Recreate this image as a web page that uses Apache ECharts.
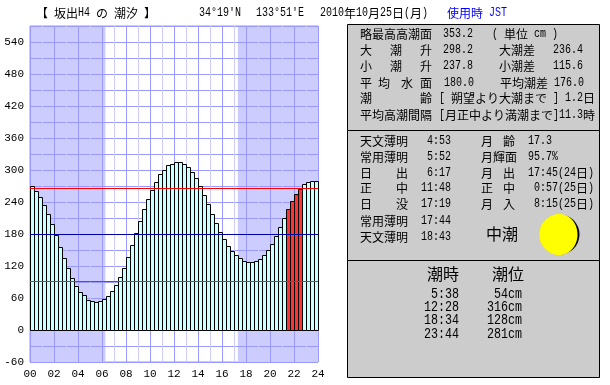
<!DOCTYPE html>
<html>
<head>
<meta charset="utf-8">
<style>html,body{margin:0;padding:0;background:#fff}#chart{width:610px;height:385px}</style>
<script src="https://cdn.jsdelivr.net/npm/echarts@6/dist/echarts.min.js"></script>
</head>
<body>
<div id="chart"></div>
<script>
// tide height every 20 minutes
const tide = [
  269, 260, 249, 234, 217, 198, 178, 155, 135, 116, 97, 82,
  71, 64, 56, 53, 52, 54, 58, 63, 73, 84, 99, 116,
  136, 159, 181, 204, 226, 245, 262, 277, 291, 299, 308, 311,
  314, 314, 311, 305, 296, 284, 269, 252, 236, 217, 200, 183,
  170, 157, 147, 140, 134, 129, 126, 126, 129, 133, 140, 149,
  161, 176, 192, 209, 226, 241, 254, 264, 273, 277, 279, 279
];
const highlighted = [64, 65, 66, 67];
const levels = [266, 180, 92];
const levelColors = ['#ff0000', '#0000aa', '#dd2233'];
const sunrise = 6 + 17 / 60;
const sunset = 17 + 19 / 60;

const headerTexts = [
  [36, 13, '【 坂出H4 の 潮汐 】'],
  [199, 13, "34°19'N"],
  [256, 13, "133°51'E"],
  [320, 13, '2010年10月25日(月)']
];
const panelTexts = [
  [360, 34, '略最高高潮面'], [443, 34, '353.2'], [492, 34, '( 単位 cm )'],
  [360, 50, '大'], [390, 50, '潮'], [420, 50, '升'], [443, 50, '298.2'], [499, 50, '大潮差'], [553, 50, '236.4'],
  [360, 66, '小'], [390, 66, '潮'], [420, 66, '升'], [443, 66, '237.8'], [499, 66, '小潮差'], [553, 66, '115.6'],
  [360, 83, '平'], [378, 83, '均'], [401, 83, '水'], [420, 83, '面'], [444, 83, '180.0'], [500, 83, '平均潮差'], [554, 83, '176.0'],
  [360, 98, '潮'], [420, 98, '齢'], [439, 98, '[ 朔望より大潮まで ] 1.2日'],
  [360, 115, '平均高潮間隔'], [439, 115, '[月正中より満潮まで]11.3時'],

  [360, 141, '天文薄明'], [427, 141, '4:53'], [481, 141, '月'], [503, 141, '齢'], [528, 141, '17.3'],
  [360, 157, '常用薄明'], [427, 157, '5:52'], [481, 157, '月輝面'], [528, 157, '95.7%'],
  [360, 173, '日'], [396, 173, '出'], [427, 173, '6:17'], [481, 173, '月'], [503, 173, '出'], [528, 173, '17:45(24日)'],
  [360, 188, '正'], [396, 188, '中'], [421, 188, '11:48'], [481, 188, '正'], [503, 188, '中'], [534, 188, '0:57(25日)'],
  [360, 204, '日'], [396, 204, '没'], [421, 204, '17:19'], [481, 204, '月'], [503, 204, '入'], [534, 204, '8:15(25日)'],
  [360, 221, '常用薄明'], [421, 221, '17:44'],
  [360, 237, '天文薄明'], [421, 237, '18:43']
];
const tideTimes = ['5:38', '12:28', '18:34', '23:44'];
const tideHeights = ['54cm', '316cm', '128cm', '281cm'];
const tideRowY = [294, 307, 320, 334];

// splits CJK and latin runs so latin stays half width like the original gothic font
const textRuns = (x, y, str, size, fill) => {
  const cell = size / 2;
  const out = [];
  (str.match(/[\x20-\x7e°]+|[^\x20-\x7e°]+/g) || []).forEach(run => {
    const latin = /^[\x20-\x7e°]/.test(run);
    out.push({
      type: 'text',
      x: x,
      y: y,
      scaleX: latin ? cell / (size * 0.6) : 1,
      z: 20,
      style: {
        text: run,
        fill: fill || '#000',
        verticalAlign: 'middle',
        font: size + 'px ' + (latin ? '"Liberation Mono"' : '"Noto Sans CJK JP"')
      }
    });
    x += run.length * (latin ? cell : size);
  });
  return out;
};

const panel = (y, h) => ({
  type: 'rect',
  z: 10,
  shape: { x: 347.5, y: y + 0.5, width: 252, height: h },
  style: { fill: '#cccccc', stroke: '#000', lineWidth: 1 }
});

const elements = [panel(24, 106), panel(130, 130), panel(260, 117)];
headerTexts.forEach(t => elements.push(...textRuns(t[0], t[1], t[2], 12)));
elements.push(...textRuns(447, 13, '使用時 JST', 12, '#0000ff'));
panelTexts.forEach(t => elements.push(...textRuns(t[0], t[1], t[2], 12)));
elements.push(...textRuns(486, 234, '中潮', 16));
elements.push(...textRuns(427, 274, '潮時', 16));
elements.push(...textRuns(492, 274, '潮位', 16));
tideTimes.forEach((t, i) => {
  elements.push(...textRuns(459 - t.length * 7, tideRowY[i], t, 14));
  elements.push(...textRuns(522 - tideHeights[i].length * 7, tideRowY[i], tideHeights[i], 14));
});
// moon: black disc, lit part is a half circle plus a half ellipse
elements.push({
  type: 'circle',
  z: 15,
  shape: { cx: 559.5, cy: 234.5, r: 20 },
  style: { fill: '#000' }
});
elements.push({
  type: 'sector',
  z: 16,
  shape: { cx: 559.5, cy: 234.5, r: 20.5, r0: 0, startAngle: Math.PI / 2, endAngle: Math.PI * 1.5 },
  style: { fill: '#ffff00' }
});
elements.push({
  type: 'ellipse',
  z: 16,
  shape: { cx: 559.5, cy: 234.5, rx: 18, ry: 20.5 },
  style: { fill: '#ffff00' }
});

// bars start on the tick, with 1px crisp outlines
const renderBar = (params, api) => {
  const top = api.coord([api.value(0), api.value(1)]);
  const base = api.coord([api.value(0), 0]);
  const width = api.size([1 / 3, 0])[0];
  const x = Math.floor(top[0] + 0.01) + 0.5;
  const y = Math.floor(top[1]) + 0.5;
  const yBase = Math.floor(base[1]) + 0.5;
  return {
    type: 'rect',
    shape: { x: x, y: y, width: Math.round(width), height: yBase - y },
    style: {
      fill: highlighted.includes(params.dataIndex) ? '#ff3333' : '#ccffff',
      stroke: '#000',
      lineWidth: 1
    }
  };
};

const chart = echarts.init(document.getElementById('chart'), null, { renderer: 'canvas' });
chart.setOption({
  animation: false,
  grid: { left: 30, top: 26, width: 288, height: 336, show: true, borderColor: '#9999ff', borderWidth: 1, backgroundColor: '#fff' },
  xAxis: {
    type: 'value',
    min: 0,
    max: 24,
    interval: 1,
    z: 3,
    axisLine: { show: false },
    axisTick: { show: false },
    splitLine: { show: true, lineStyle: { color: ['#9999ff', '#ccccff'], width: 1 } },
    axisLabel: {
      margin: 7,
      color: '#000',
      fontFamily: '"Liberation Mono"',
      fontSize: 11,
      formatter: v => (v % 2 === 0 ? String(v).padStart(2, '0') : '')
    }
  },
  yAxis: {
    type: 'value',
    min: -60,
    max: 570,
    interval: 30,
    z: 3,
    axisLine: { show: false },
    axisTick: { show: false },
    splitLine: { show: true, lineStyle: { color: '#9999ff', width: 1 } },
    axisLabel: {
      margin: 6,
      color: '#000',
      fontFamily: '"Liberation Mono"',
      fontSize: 11,
      formatter: v => (v % 60 === 0 ? String(v) : '')
    }
  },
  series: [
    {
      // night shading sits under the grid lines
      type: 'line',
      z: 1,
      data: [],
      silent: true,
      markArea: {
        z: 1,
        silent: true,
        itemStyle: { color: '#ccccff', opacity: 1 },
        data: [
          [{ coord: [0, -60] }, { coord: [sunrise, 570] }],
          [{ coord: [sunset, -60] }, { coord: [24, 570] }]
        ]
      }
    },
    {
      type: 'custom',
      z: 5,
      silent: true,
      clip: false,
      renderItem: renderBar,
      encode: { x: 0, y: 1 },
      data: tide.map((v, i) => [i / 3, v])
    },
    {
      type: 'line',
      z: 6,
      data: [],
      silent: true,
      markLine: {
        z: 6,
        silent: true,
        symbol: 'none',
        label: { show: false },
        data: levels.map((v, i) => [
          { coord: [0, v], lineStyle: { color: levelColors[i], width: 1, type: 'solid' } },
          { coord: [24, v] }
        ])
      }
    }
  ],
  graphic: { elements: elements }
});
</script>
</body>
</html>
